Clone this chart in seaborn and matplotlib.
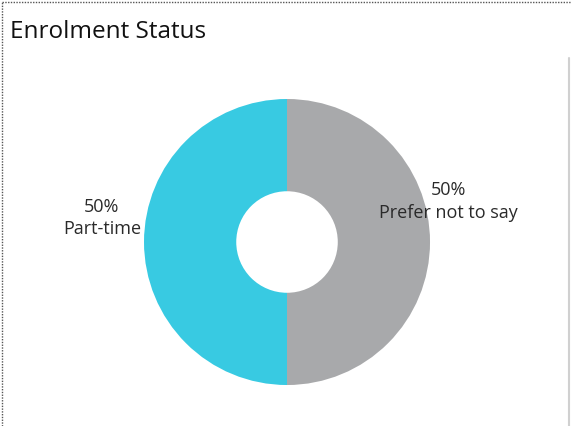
import matplotlib.pyplot as plt
import seaborn as sns
from matplotlib.lines import Line2D

sns.set_theme(style="white")
plt.rcParams['font.family'] = ['Open Sans', 'DejaVu Sans']

# data
categories = ['Part-time', 'Prefer not to say']
shares = [50, 50]
colors = ['#38cae2', '#a8a9ab']

fig = plt.figure(figsize=(5.71, 4.26), dpi=100)
ax = fig.add_axes([0.2522, 0.0962, 0.5009, 0.6714])

ax.pie(shares, colors=colors, startangle=90, counterclock=True,
       radius=1, wedgeprops=dict(width=0.645, linewidth=0))
ax.set_xlim(-1, 1)
ax.set_ylim(-1, 1)
ax.set_aspect('equal')
ax.axis('off')

# labels next to each slice
label_pos = [(-1.295, 0.168), (1.126, 0.283)]
for cat, val, (x, y) in zip(categories, shares, label_pos):
    ax.text(x, y, f"{val}%\n{cat}", ha='center', va='center', fontsize=13,
            color='#2a2a2a', linespacing=1.35, clip_on=False)

fig.text(10 / 571, 1 - 32 / 426, 'Enrolment Status', fontsize=17.5, color='#111111',
         ha='left', va='center')

# dotted frame + divider
fig.add_artist(Line2D([2 / 571, 1], [1 - 2 / 426, 1 - 2 / 426], transform=fig.transFigure,
                      color='#555555', lw=1, linestyle=(0, (1, 1))))
fig.add_artist(Line2D([2 / 571, 2 / 571], [0, 1 - 2 / 426], transform=fig.transFigure,
                      color='#555555', lw=1, linestyle=(0, (1, 1))))
fig.add_artist(Line2D([569 / 571, 569 / 571], [0, 1 - 58 / 426], transform=fig.transFigure,
                      color='#d0d0d0', lw=1.5))

fig.savefig('out.png', dpi=100)
